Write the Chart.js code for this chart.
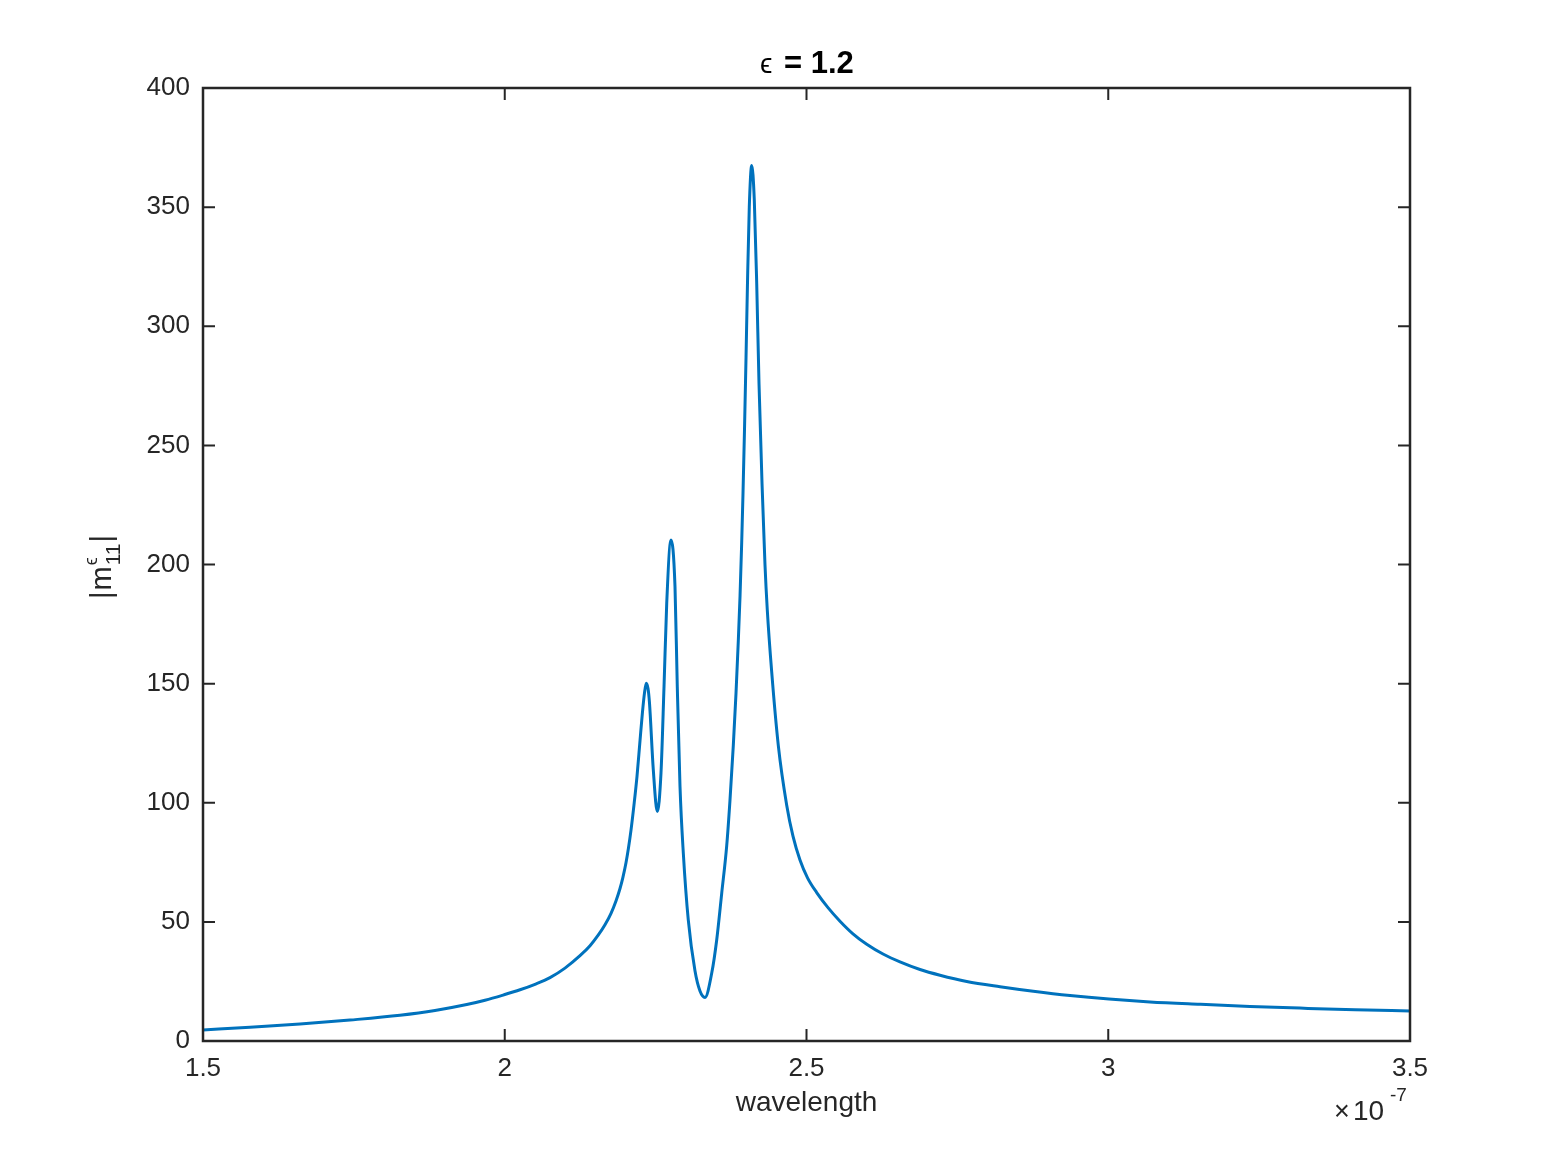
<!DOCTYPE html>
<html>
<head>
<meta charset="utf-8">
<script src="https://cdn.jsdelivr.net/npm/chart.js@4.4.1/dist/chart.umd.min.js"></script>
<style>
html,body{margin:0;padding:0;background:#fff;}
canvas{display:block;}
</style>
</head>
<body>
<canvas id="c" width="1556" height="1167"></canvas>
<script>
// wavelength in units of 1e-7 m
const wavelength = [1.5000,1.5779,1.6607,1.7436,1.8264,1.8844,1.9370,1.9673,1.9988,2.0253,2.0501,2.0750,2.0998,2.1247,2.1413,2.1545,2.1661,2.1761,2.1843,2.1910,2.1959,2.2009,2.2050,2.2092,2.2141,2.2191,2.2241,2.2282,2.2315,2.2345,2.2374,2.2398,2.2461,2.2528,2.2589,2.2639,2.2684,2.2755,2.2821,2.2859,2.2904,2.2959,2.3041,2.3152,2.3235,2.3318,2.3429,2.3512,2.3595,2.3678,2.3732,2.3787,2.3832,2.3870,2.3899,2.3926,2.3948,2.3973,2.3998,2.4022,2.4052,2.4092,2.4135,2.4175,2.4213,2.4263,2.4312,2.4350,2.4423,2.4533,2.4672,2.4776,2.4892,2.5017,2.5169,2.5356,2.5555,2.5770,2.5998,2.6268,2.6549,2.6881,2.7212,2.7655,2.8206,2.8758,2.9366,3.0012,3.0692,3.1520,3.2349,3.3177,3.4089,3.5000];
const m11abs = [4.6,5.8,7.1,8.8,10.8,12.8,15.3,17.1,19.4,21.5,23.8,26.6,30.6,35.8,40.0,44.3,48.8,53.6,58.8,64.0,68.8,74.8,81.0,88.5,99.0,111.0,126.0,138.0,146.0,150.2,148.0,142.0,114.0,96.3,112.5,148.7,183.8,210.3,190.7,148.7,106.8,78.8,50.8,29.5,21.0,18.3,28.4,42.4,62.0,82.0,101.0,124.0,146.0,168.0,187.0,209.0,230.0,257.0,287.0,318.0,350.0,367.5,353.0,318.0,276.0,234.0,200.0,181.0,155.0,124.0,99.0,86.0,76.0,68.5,62.3,56.0,50.3,45.0,40.6,36.5,33.2,30.0,27.6,25.0,22.8,20.9,19.1,17.6,16.4,15.4,14.5,13.8,13.1,12.6];
const xTicks = [1.5,2,2.5,3,3.5];
const yTicks = [0,50,100,150,200,250,300,350,400];
const titleSymbol = 'ϵ';
const titleText = '= 1.2';
const xLabel = 'wavelength';

const AX = '#262626';
const FONT = '"Liberation Sans", Arial, Helvetica, sans-serif';

const decor = {
  id: 'decor',
  afterDraw(chart) {
    const ctx = chart.ctx;
    const a = chart.chartArea;
    const xs = chart.scales.x, ys = chart.scales.y;
    ctx.save();
    ctx.strokeStyle = AX;
    ctx.lineWidth = 2.5;
    ctx.strokeRect(a.left, a.top, a.right - a.left, a.bottom - a.top);
    const tl = 12;
    ctx.lineWidth = 2;
    ctx.beginPath();
    xTicks.forEach(v => {
      const px = xs.getPixelForValue(v);
      ctx.moveTo(px, a.bottom); ctx.lineTo(px, a.bottom - tl);
      ctx.moveTo(px, a.top); ctx.lineTo(px, a.top + tl);
    });
    yTicks.forEach(v => {
      const py = ys.getPixelForValue(v);
      ctx.moveTo(a.left, py); ctx.lineTo(a.left + tl, py);
      ctx.moveTo(a.right, py); ctx.lineTo(a.right - tl, py);
    });
    ctx.stroke();

    ctx.fillStyle = AX;
    // x label
    ctx.font = '28px ' + FONT;
    ctx.textAlign = 'center';
    ctx.textBaseline = 'alphabetic';
    ctx.fillText(xLabel, (a.left + a.right) / 2, 1111);

    // x10^-7
    ctx.textAlign = 'left';
    ctx.font = '27px ' + FONT;
    ctx.fillText('\u00d7', 1334, 1120);
    ctx.font = '28px ' + FONT;
    ctx.fillText('10', 1353, 1120);
    ctx.font = '19px ' + FONT;
    ctx.fillText('-7', 1390, 1101);

    // title
    ctx.fillStyle = '#000';
    ctx.font = '28px ' + FONT;
    ctx.fillText(titleSymbol, 760, 73);
    ctx.font = 'bold 31px ' + FONT;
    ctx.fillText(titleText, 784, 73);

    // y label |m^eps_11|
    ctx.fillStyle = AX;
    ctx.translate(111, 566);
    ctx.rotate(-Math.PI / 2);
    ctx.textAlign = 'left';
    let x = -33;
    ctx.font = '29px ' + FONT;
    ctx.fillText('|', x, 0); x += ctx.measureText('|').width + 1;
    ctx.fillText('m', x, 0); x += ctx.measureText('m').width + 1;
    ctx.font = '18px ' + FONT;
    ctx.fillText('ϵ', x, -14);
    ctx.font = '21px ' + FONT;
    ctx.fillText('11', x, 9);
    x += ctx.measureText('11').width + 1;
    ctx.font = '29px ' + FONT;
    ctx.fillText('|', x, 0);
    ctx.restore();
  }
};

new Chart(document.getElementById('c'), {
  type: 'line',
  data: {
    datasets: [{
      data: wavelength.map((w, i) => ({x: w, y: m11abs[i]})),
      borderColor: '#0072BD',
      borderWidth: 3,
      pointRadius: 0,
      fill: false,
      cubicInterpolationMode: 'monotone'
    }]
  },
  options: {
    responsive: false,
    animation: false,
    devicePixelRatio: 1,
    layout: {padding: {top: 88, right: 146, left: 0, bottom: 0}},
    plugins: {legend: {display: false}, title: {display: false}, tooltip: {enabled: false}},
    scales: {
      x: {
        type: 'linear', min: 1.5, max: 3.5,
        afterBuildTicks: s => { s.ticks = xTicks.map(v => ({value: v})); },
        afterFit: s => { s.height = 126; },
        grid: {display: false, drawTicks: false},
        border: {display: false},
        ticks: {color: AX, font: {family: FONT, size: 26}, padding: 12, maxRotation: 0, callback: v => String(v)}
      },
      y: {
        type: 'linear', min: 0, max: 400,
        afterBuildTicks: s => { s.ticks = yTicks.map(v => ({value: v})); },
        afterFit: s => { s.width = 203; },
        grid: {display: false, drawTicks: false},
        border: {display: false},
        ticks: {color: AX, font: {family: FONT, size: 26}, padding: 13, callback: v => String(v)}
      }
    }
  },
  plugins: [decor]
});
</script>
</body>
</html>
